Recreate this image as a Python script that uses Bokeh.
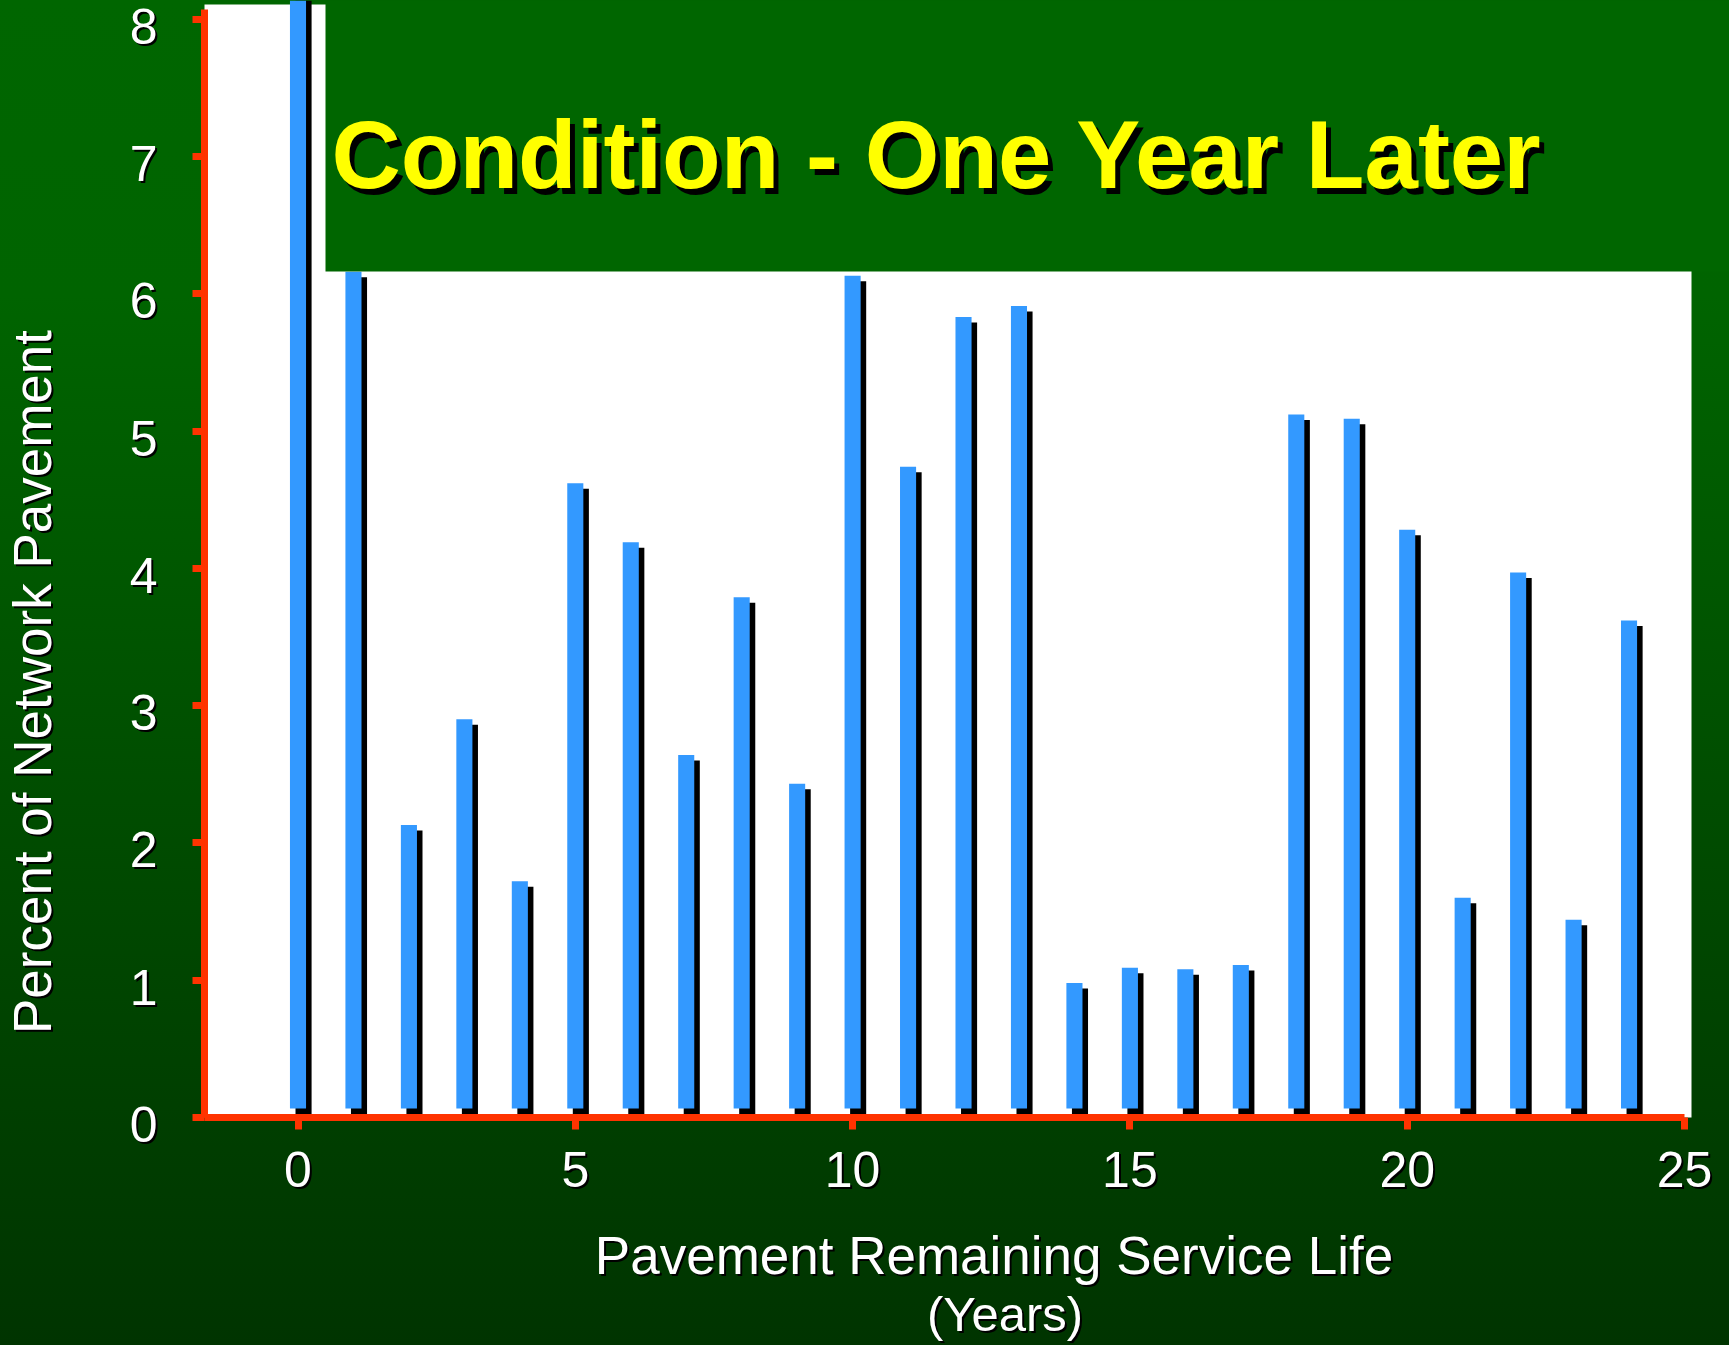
import math
from bokeh.plotting import figure
from bokeh.models import (ColumnDataSource, BoxAnnotation, Label, Range1d,
                          LinearAxis, FixedTicker)
from bokeh.transform import dodge
from bokeh.embed import file_html
from bokeh.resources import INLINE

# ---- data ----
years = list(range(25))
percent = [8.6, 6.12, 2.09, 2.86, 1.68, 4.58, 4.15, 2.60, 3.75, 2.39,
           6.09, 4.70, 5.79, 5.87, 0.94, 1.05, 1.04, 1.07, 5.08, 5.05,
           4.24, 1.56, 3.93, 1.40, 3.58]
x_ticks = [0, 5, 10, 15, 20, 25]
y_ticks = [0, 1, 2, 3, 4, 5, 6, 7, 8]
title_text = "Condition - One Year Later"
x_title = "Pavement Remaining Service Life"
x_title2 = "(Years)"
y_title = "Percent of Network Pavement"

FONT = "Liberation Sans"
RED = "#FF3300"
W, H = 1729, 1345

# ---- layout constants (pixels inside the figure, top-left origin) ----
X0_PX, X_UNIT = 297.5, 55.46      # pixel of x=0, pixels per year
Y0_PX, Y_UNIT = 1117.0, 137.3     # pixel of y=0, pixels per percent
PLOT_LEFT_PX, PLOT_RIGHT_PX, PLOT_TOP_PX = 204.0, 1691.0, 4.0

def dx(px):
    return (px - X0_PX) / X_UNIT

def dy(py):
    return (Y0_PX - py) / Y_UNIT

XS, XE, YS, YE = dx(0), dx(W), dy(H), dy(0)
p = figure(width=W, height=H, output_backend="svg", toolbar_location=None,
           x_range=Range1d(XS, XE), y_range=Range1d(YS, YE),
           min_border=0, min_border_left=0, min_border_right=0,
           min_border_top=0, min_border_bottom=0)
p.border_fill_color = None
p.background_fill_color = None
p.outline_line_color = None
p.xgrid.visible = False
p.ygrid.visible = False
p.styles = {"background": "linear-gradient(to bottom, #006600 0%, #006400 22%, #003400 100%)"}

# shifted ranges used only to place tick-label texts (and their shadows)
SH = 2.0  # shadow offset, px
p.extra_y_ranges = {
    "ylab": Range1d(YS + 7 / Y_UNIT, YE + 7 / Y_UNIT),
    "ylab_sh": Range1d(YS + (7 + SH) / Y_UNIT, YE + (7 + SH) / Y_UNIT),
}
p.extra_x_ranges = {
    "xlab_sh": Range1d(XS - SH / X_UNIT, XE - SH / X_UNIT),
}

# white plot area
p.add_layout(BoxAnnotation(left=dx(PLOT_LEFT_PX), right=dx(PLOT_RIGHT_PX),
                           bottom=0, top=dy(PLOT_TOP_PX),
                           fill_color="white", fill_alpha=1.0, line_color=None,
                           level="underlay"))

# axes: lines + ticks (no label text)
for ax, ticks in ((p.xaxis[0], x_ticks), (p.yaxis[0], y_ticks)):
    ax.ticker = FixedTicker(ticks=ticks)
    ax.axis_line_color = RED
    ax.axis_line_width = 7
    ax.major_tick_line_color = RED
    ax.major_tick_line_width = 7
    ax.major_tick_out = 12
    ax.major_tick_in = 0
    ax.minor_tick_line_color = None
    ax.major_label_overrides = {t: "" for t in ticks}
p.xaxis.fixed_location = 0
p.yaxis.fixed_location = dx(PLOT_LEFT_PX)
p.xaxis.bounds = (dx(PLOT_LEFT_PX), 25)
p.yaxis.bounds = (0, dy(9))

def label_axis(side, color, ticks, fixed, **kw):
    ax = LinearAxis(ticker=FixedTicker(ticks=ticks), fixed_location=fixed,
                    axis_line_color=None, major_tick_line_color=None,
                    minor_tick_line_color=None, major_tick_out=12, major_tick_in=0,
                    major_label_text_color=color, major_label_text_font=FONT,
                    major_label_text_font_size="50px", **kw)
    p.add_layout(ax, side)

# tick labels: black shadows first, white on top
label_axis("below", "black", x_ticks, -SH / Y_UNIT, x_range_name="xlab_sh",
           major_label_standoff=22)
label_axis("below", "white", x_ticks, 0, major_label_standoff=22)
label_axis("left", "black", y_ticks, dx(PLOT_LEFT_PX + SH), y_range_name="ylab_sh",
           major_label_standoff=35)
label_axis("left", "white", y_ticks, dx(PLOT_LEFT_PX), y_range_name="ylab",
           major_label_standoff=35)

src = ColumnDataSource(dict(year=years, percent=percent))
# shadow
p.vbar(x=dodge("year", 0.1), top="percent", bottom=0, width=0.29,
       source=src, fill_color="black", line_color=None)
# bar
p.vbar(x="year", top=dodge("percent", 0.04), bottom=0.065, width=0.29,
       source=src, fill_color="#3399FF", line_color=None)

# title box (to the right edge / top edge of the figure)
p.add_layout(BoxAnnotation(left=325, left_units="screen",
                           bottom=H - 271, bottom_units="screen",
                           fill_color="#006600", fill_alpha=1.0, line_color=None))

def add_text(fx, fy, text, size, color, style="normal", angle=0.0, align="left"):
    lab = Label(x=fx, y=H - fy, x_units="screen", y_units="screen", text=text,
                text_font=FONT, text_font_size=size, text_font_style=style,
                text_color=color, angle=angle, text_align=align,
                text_baseline="middle")
    p.add_layout(lab)

# title with shadow
add_text(336, 160, title_text, "96px", "black", style="bold")
add_text(331, 154, title_text, "96px", "yellow", style="bold")

# y axis title
add_text(34, 683.5, y_title, "53px", "black", angle=math.pi / 2, align="center")
add_text(32, 681.5, y_title, "53px", "white", angle=math.pi / 2, align="center")

# x axis title
add_text(995.5, 1256.6, x_title, "53px", "black", align="center")
add_text(993.5, 1254.6, x_title, "53px", "white", align="center")
add_text(1006.5, 1315.1, x_title2, "49px", "black", align="center")
add_text(1004.5, 1313.1, x_title2, "49px", "white", align="center")

open("out.html", "w").write(file_html(p, INLINE))
